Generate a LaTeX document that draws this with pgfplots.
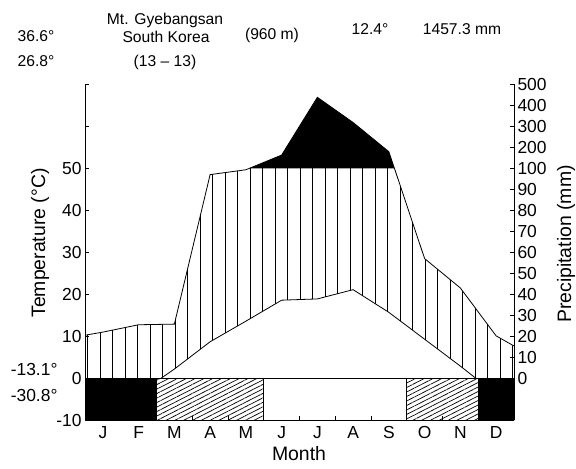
\documentclass[border=0pt]{standalone}
\usepackage{pgfplots}
\usepackage{pgfplotstable}
\pgfplotsset{compat=1.18}
\usepgfplotslibrary{fillbetween}
\usetikzlibrary{patterns.meta}
\usepackage{fontspec}
\setmainfont{Liberation Sans}

% monthly mean temperature (deg C); x = month position (0..12), ends wrap around
\pgfplotstableread{
x T
0 -4.6
0.5 -5.5
1.5 -3.7
2.5 2.2
3.5 8.7
4.5 13.6
5.5 18.6
6.5 18.9
7.5 21.1
8.5 15.7
9.5 9.3
10.5 2.9
11.5 -3.8
12 -4.6
}\temptable

% monthly precipitation (mm)
\pgfplotstableread{
x P
0 20.5
0.5 22
1.5 25.5
2.5 25.8
3.5 97
4.5 99.3
5.5 163
6.5 438
7.5 318
8.5 179
9.5 57
10.5 43
11.5 20.2
12 15.4
}\prectable

\newcommand\tickfont{\fontsize{17.5}{21}\selectfont}
\newcommand\labfont{\fontsize{19.5}{23}\selectfont}
\newcommand\headfont{\fontsize{15.7}{19}\selectfont}

\begin{document}
\begin{tikzpicture}
\begin{axis}[
  at={(0,0)}, anchor=south west,
  scale only axis, width=429bp, height=336bp,
  xmin=0, xmax=12, ymin=-10, ymax=70,
  axis x line*=bottom, axis y line*=left,
  axis line style={-, line width=0.8bp},
  tick align=inside, major tick length=4bp, minor tick length=4bp,
  tick label style={font=\tickfont},
  xtick={0.5,1.5,...,11.5},
  xticklabels={J,F,M,A,M,J,J,A,S,O,N,D},
  major x tick style={draw=none},
  minor x tick style={black, line width=0.8bp},
  major y tick style={black, line width=0.8bp},
  minor xtick={1,2,...,11},
  ytick={-10,0,10,20,30,40,50,60,70},
  yticklabels={-10,0,10,20,30,40,50,,},
  xticklabel style={yshift=-3bp},
  axis on top,
]
\addplot[name path=P, black, line width=0.8bp]
  table[x=x, y expr={ifthenelse(\thisrow{P}<=100, \thisrow{P}/2, 50+(\thisrow{P}-100)/20)}] {\prectable};
\addplot[name path=T, black, line width=0.8bp] table[x=x, y=T] {\temptable};
\addplot[name path=F, draw=none] coordinates {(0,50) (12,50)};
\addplot[pattern={Lines[angle=90, distance=12.5bp, line width=0.8bp]}]
  fill between[of=P and T];
\addplot[draw=none, fill=none]
  fill between[of=P and F, split, every segment no 1/.style={fill=black}];
% frost bars
\addplot[fill=black, draw=black, line width=0.8bp] coordinates {(0,-10) (0,0) (2,0) (2,-10)} -- cycle;
\addplot[fill=black, draw=black, line width=0.8bp] coordinates {(11,-10) (11,0) (12,0) (12,-10)} -- cycle;
\addplot[preaction={fill=white}, pattern={Lines[angle=27, distance=4bp, line width=0.7bp]}, draw=black, line width=0.8bp] coordinates {(2,-10) (2,0) (5,0) (5,-10)} -- cycle;
\addplot[preaction={fill=white}, pattern={Lines[angle=27, distance=4bp, line width=0.7bp]}, draw=black, line width=0.8bp] coordinates {(9,-10) (9,0) (11,0) (11,-10)} -- cycle;
\addplot[fill=white, draw=black, line width=0.8bp] coordinates {(5,-10) (5,0) (9,0) (9,-10)} -- cycle;
\end{axis}
\begin{axis}[
  at={(0,0)}, anchor=south west,
  scale only axis, width=429bp, height=336bp,
  xmin=0, xmax=12, ymin=-10, ymax=70,
  axis x line=none, axis y line*=right,
  axis line style={-, line width=0.8bp},
  tick align=inside, major tick length=4bp,
  tick label style={font=\tickfont},
  major y tick style={black, line width=0.8bp},
  ytick={0,5,10,15,20,25,30,35,40,45,50,55,60,65,70},
  yticklabels={0,10,20,30,40,50,60,70,80,90,100,200,300,400,500},
]
\addplot[draw=none] coordinates {(0,0) (12,0)};
\end{axis}
\node[rotate=90, font=\labfont] at (-45bp,177.3bp) {Temperature (°C)};
\node[rotate=90, font=\labfont] at (481bp,176.3bp) {Precipitation (mm)};
\node[font=\labfont] at (214bp,-33.7bp) {Month};
\node[anchor=east, font=\tickfont] at (-24bp,51.3bp) {-13.1°};
\node[anchor=east, font=\tickfont] at (-24bp,24.6bp) {-30.8°};
\node[anchor=base, font=\headfont] at (-49bp,378.8bp) {36.6°};
\node[anchor=base, font=\headfont] at (-49bp,353.8bp) {26.8°};
\node[anchor=base, font=\headfont] at (80bp,395.8bp) {Mt. Gyebangsan};
\node[anchor=base, font=\headfont] at (81bp,377.3bp) {South Korea};
\node[anchor=base, font=\headfont] at (80bp,353.8bp) {(13 – 13)};
\node[anchor=base, font=\headfont] at (187bp,380.8bp) {(960 m)};
\node[anchor=base, font=\headfont] at (285bp,385.3bp) {12.4°};
\node[anchor=base, font=\headfont] at (377bp,385.3bp) {1457.3 mm};
\pgfresetboundingbox
\path[use as bounding box] (-85bp,-48.7bp) rectangle (491bp,420.3bp);
\end{tikzpicture}
\end{document}
